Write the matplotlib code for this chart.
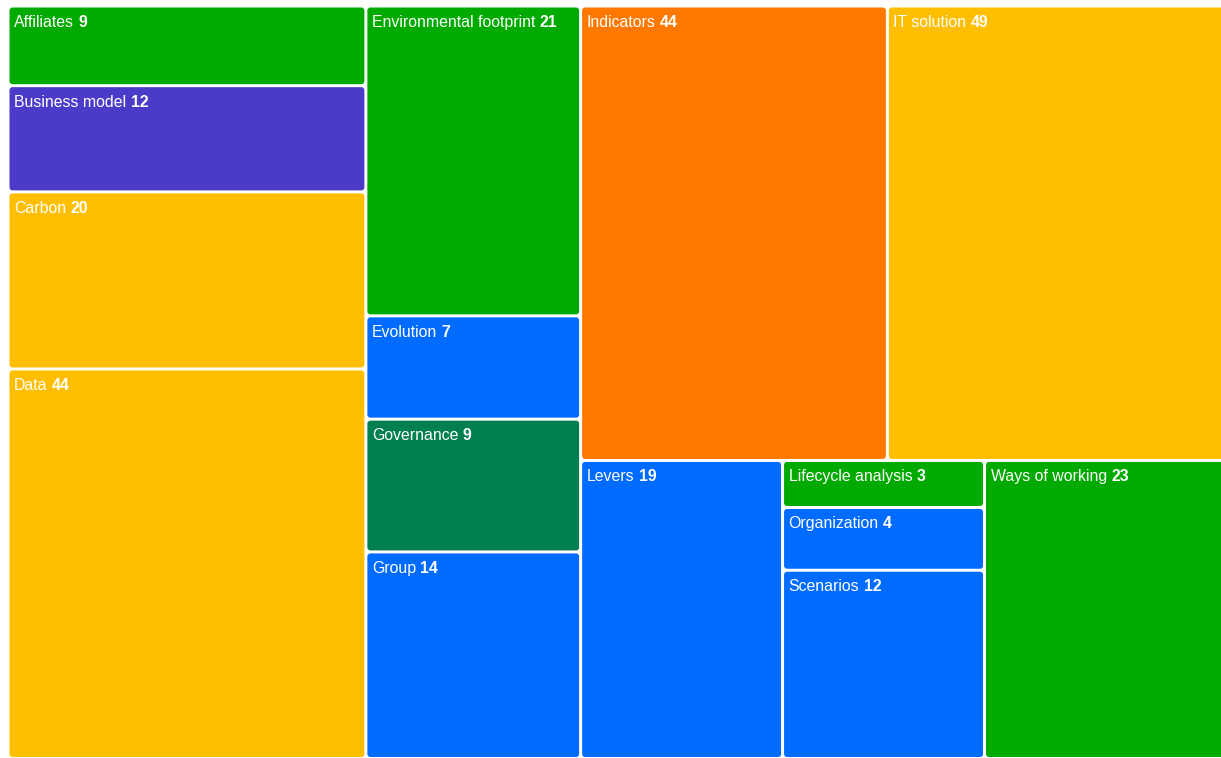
#!/usr/bin/env python3
"""Treemap of topic counts, laid out as nested slice-and-dice groups."""
import matplotlib

matplotlib.use("Agg")
import matplotlib.pyplot as plt
from matplotlib.patches import FancyBboxPatch

plt.rcParams["font.family"] = ["Liberation Sans", "DejaVu Sans"]

NAMES = [
    "Affiliates", "Business model", "Carbon", "Data",
    "Environmental footprint", "Evolution", "Governance", "Group",
    "Indicators", "IT solution", "Levers", "Lifecycle analysis",
    "Organization", "Scenarios", "Ways of working",
]
VALUES = [9, 12, 20, 44, 21, 7, 9, 14, 44, 49, 19, 3, 4, 12, 23]
COLORS = [
    "#00aa00", "#4a3bc8", "#ffbf00", "#ffbf00",
    "#00aa00", "#006bff", "#008050", "#006bff",
    "#ff7800", "#ffbf00", "#006bff", "#00aa00",
    "#006bff", "#006bff", "#00aa00",
]

# grouping of the tiles: "h" = side by side, "v" = stacked (indices into NAMES)
GROUPS = ("h", [
    ("v", [0, 1, 2, 3]),
    ("v", [4, 5, 6, 7]),
    ("v", [("h", [8, 9]), ("h", [10, ("v", [11, 12, 13]), 14])]),
])

W, H = 1221, 758
AREA = (8, 6, 1221, 752.5)  # x, y, w, h of the tile area in pixels (right edge is cropped)
GAP = 1.5


def total(node):
    if isinstance(node, int):
        return VALUES[node]
    return sum(total(c) for c in node[1])


def layout(node, x, y, w, h, out):
    if isinstance(node, int):
        out[node] = (x, y, w, h)
        return
    direction, children = node
    tot = total(node)
    pos = 0.0
    for c in children:
        frac = total(c) / tot
        if direction == "h":
            layout(c, x + pos * w, y, frac * w, h, out)
        else:
            layout(c, x, y + pos * h, w, frac * h, out)
        pos += frac


rects = {}
layout(GROUPS, *AREA, rects)

fig = plt.figure(figsize=(W / 100, H / 100), dpi=100)
ax = fig.add_axes([0, 0, 1, 1])
ax.set_xlim(0, W)
ax.set_ylim(H, 0)
ax.axis("off")

for i, name in enumerate(NAMES):
    x, y, w, h = rects[i]
    ax.add_patch(FancyBboxPatch(
        (x + GAP, y + GAP), w - 2 * GAP, h - 2 * GAP,
        boxstyle="round,pad=0,rounding_size=3",
        fc=COLORS[i], ec="none",
    ))
    t = ax.text(x + 6, y + 9, name, color="white", fontsize=11.4,
                ha="left", va="top")
    ax.annotate(str(VALUES[i]), xy=(1, 0), xycoords=t,
                xytext=(3.2, 0), textcoords="offset points",
                color="white", fontsize=11.4, fontweight="bold",
                ha="left", va="bottom")

fig.savefig("out.png", dpi=100)
